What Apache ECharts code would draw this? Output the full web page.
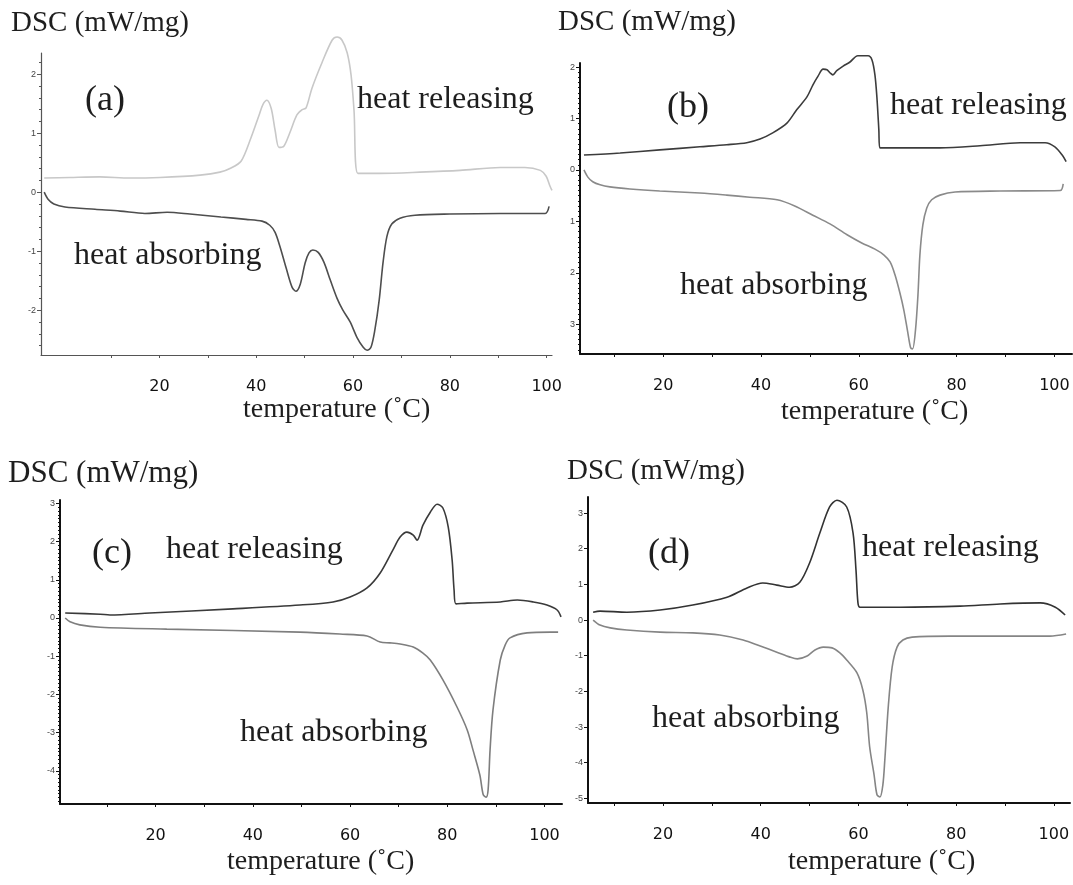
<!DOCTYPE html>
<html>
<head>
<meta charset="utf-8">
<script src="https://cdn.jsdelivr.net/npm/echarts@6/dist/echarts.min.js"></script>
<style>
  html, body { margin: 0; padding: 0; background: #fff; }
  #chart { width: 1073px; height: 885px; }
</style>
</head>
<body>
<div id="chart"></div>
<script>
// temperature axis ticks / labels (shared by the four panels)
var tempTicks = [10, 20, 30, 40, 50, 60, 70, 80, 90, 100];
var tempLabels = [20, 40, 60, 80, 100];

// DSC tick labels of each panel
var aDscLabels = [-2, -1, 0, 1, 2];
var bDscLabels = [-3, -2, -1, 0, 1, 2];
var cDscLabels = [-4, -3, -2, -1, 0, 1, 2, 3];
var dDscLabels = [-5, -4, -3, -2, -1, 0, 1, 2, 3];

// (a) heat releasing (light curve)
var aReleaseT = [-3.8, 1.5, 7.7, 13.9, 20.1, 28.4, 32.5, 34.8, 36.9, 38.9, 40.6, 41.4, 42.2, 43.1, 43.9, 44.7, 45.7, 46.9, 48.4, 49.5, 50.3, 51.5, 53.6, 55.7, 56.7, 57.7, 58.8, 59.6, 60.2, 61.0, 65.6, 73.8, 82.1, 90.4, 95.5, 98.7, 99.9, 100.7, 101.1];
var aReleaseDsc = [0.24, 0.25, 0.26, 0.24, 0.25, 0.29, 0.34, 0.41, 0.53, 0.92, 1.31, 1.49, 1.56, 1.42, 1.05, 0.76, 0.78, 1.0, 1.31, 1.40, 1.43, 1.76, 2.2, 2.58, 2.63, 2.58, 2.36, 1.98, 1.39, 0.32, 0.32, 0.34, 0.37, 0.42, 0.42, 0.37, 0.27, 0.1, 0.03];
// (a) heat absorbing
var aAbsorbT = [-3.8, -3.0, -1.8, 0.5, 6.7, 11.9, 17.0, 21.6, 26.3, 32.7, 37.9, 41.2, 42.8, 43.9, 44.9, 46.2, 47.4, 48.2, 49.1, 50.1, 50.9, 51.7, 52.8, 54.0, 55.3, 56.7, 57.9, 59.4, 60.8, 62.1, 62.9, 63.7, 64.5, 65.4, 66.2, 67.0, 68.0, 69.7, 72.8, 80.0, 90.4, 99.7, 100.5];
var aAbsorbDsc = [0, -0.12, -0.2, -0.25, -0.29, -0.32, -0.36, -0.34, -0.37, -0.42, -0.46, -0.49, -0.56, -0.68, -0.92, -1.29, -1.61, -1.68, -1.56, -1.2, -1.03, -0.98, -1.02, -1.19, -1.49, -1.8, -2.0, -2.2, -2.46, -2.63, -2.68, -2.63, -2.34, -1.83, -1.19, -0.75, -0.54, -0.44, -0.39, -0.37, -0.36, -0.36, -0.24];

// (b)
var bReleaseT = [3.8, 11.2, 19.3, 27.5, 33.0, 37.1, 39.8, 42.4, 45.3, 47.3, 49.4, 50.6, 51.7, 52.7, 53.5, 54.1, 54.7, 55.5, 56.8, 58.2, 59.8, 61.9, 62.7, 63.3, 63.7, 64.1, 64.3, 68.4, 76.6, 84.8, 93.0, 98.1, 100.1, 101.6, 102.4];
var bReleaseDsc = [0.29, 0.33, 0.39, 0.45, 0.49, 0.53, 0.6, 0.72, 0.91, 1.17, 1.42, 1.65, 1.83, 1.96, 1.95, 1.89, 1.85, 1.93, 2.02, 2.1, 2.22, 2.22, 2.14, 1.85, 1.42, 0.78, 0.43, 0.43, 0.43, 0.47, 0.53, 0.53, 0.45, 0.29, 0.16];
var bAbsorbT = [3.8, 4.6, 5.6, 7.1, 9.1, 13.2, 19.3, 27.5, 33.0, 37.7, 43.3, 46.9, 50.6, 54.1, 57.6, 60.6, 63.3, 65.1, 66.4, 67.4, 68.4, 69.2, 70.0, 70.6, 71.0, 71.6, 72.1, 72.5, 73.1, 73.9, 74.9, 76.6, 79.7, 88.9, 101.2, 101.8];
var bAbsorbDsc = [0, -0.14, -0.23, -0.29, -0.33, -0.37, -0.41, -0.45, -0.49, -0.53, -0.58, -0.7, -0.88, -1.05, -1.26, -1.42, -1.54, -1.65, -1.79, -2.04, -2.39, -2.72, -3.15, -3.46, -3.48, -3.11, -2.43, -1.65, -1.07, -0.74, -0.58, -0.49, -0.43, -0.41, -0.4, -0.27];

// (c)
var cReleaseT = [1.4, 8.6, 10.6, 18.8, 35.9, 49.7, 56.5, 60.0, 63.5, 66.2, 68.8, 70.3, 71.7, 73.0, 73.8, 75.0, 76.5, 77.9, 79.1, 80.2, 81.0, 81.4, 81.8, 84.1, 90.9, 94.4, 97.7, 100.5, 102.6, 103.4];
var cReleaseDsc = [0.13, 0.1, 0.08, 0.13, 0.24, 0.34, 0.42, 0.55, 0.79, 1.18, 1.78, 2.12, 2.25, 2.17, 2.04, 2.43, 2.77, 2.98, 2.88, 2.38, 1.52, 0.73, 0.37, 0.39, 0.42, 0.47, 0.42, 0.34, 0.21, 0.03];
var cAbsorbT = [1.4, 2.4, 4.4, 8.6, 22.3, 49.7, 57.9, 63.5, 66.2, 68.2, 70.3, 73.0, 75.0, 76.5, 79.1, 82.0, 84.1, 85.3, 86.7, 87.4, 88.0, 88.4, 88.8, 89.4, 90.9, 91.9, 92.9, 96.4, 101.2, 102.8];
var cAbsorbDsc = [0, -0.1, -0.18, -0.24, -0.29, -0.37, -0.42, -0.47, -0.63, -0.65, -0.68, -0.76, -0.92, -1.1, -1.62, -2.33, -2.93, -3.46, -4.11, -4.63, -4.69, -4.5, -3.46, -2.41, -1.1, -0.71, -0.52, -0.39, -0.37, -0.37];

// (d)
var dReleaseT = [5.7, 7.1, 12.6, 19.4, 26.1, 33.1, 37.2, 40.4, 43.3, 45.9, 48.0, 50.0, 52.1, 54.1, 55.6, 57.6, 58.9, 59.5, 59.9, 60.3, 68.5, 80.8, 89.0, 97.2, 100.3, 102.3];
var dReleaseDsc = [0.22, 0.25, 0.22, 0.28, 0.42, 0.64, 0.9, 1.04, 0.98, 0.92, 1.06, 1.6, 2.44, 3.17, 3.36, 3.17, 2.44, 1.4, 0.48, 0.36, 0.36, 0.39, 0.45, 0.48, 0.36, 0.14];
var dAbsorbT = [5.7, 7.1, 9.2, 12.6, 19.4, 26.1, 31.6, 36.4, 39.9, 43.3, 46.0, 47.5, 49.5, 51.1, 52.8, 54.6, 56.2, 57.6, 59.7, 60.9, 61.7, 62.3, 63.2, 63.8, 64.4, 65.0, 65.4, 66.1, 66.9, 67.9, 69.1, 71.0, 78.7, 99.2, 102.5];
var dAbsorbDsc = [0, -0.14, -0.22, -0.28, -0.34, -0.36, -0.42, -0.56, -0.73, -0.9, -1.04, -1.09, -1.01, -0.84, -0.76, -0.78, -0.92, -1.12, -1.48, -1.96, -2.6, -3.56, -4.34, -4.9, -4.96, -4.62, -3.92, -2.44, -1.32, -0.76, -0.56, -0.48, -0.45, -0.45, -0.39];

function pts(t, d) {
  return t.map(function (v, i) { return [v, d[i]]; });
}
function minorTicks(lo, hi, step) {
  var out = [];
  for (var v = Math.ceil(lo / step) * step; v <= hi; v += step) out.push(+v.toFixed(2));
  return out;
}

// layout of the four panels
var panels = [
  { box: { left: 41, top: 53, width: 511, height: 302 }, x: [-4.46, 101.1], y: [-2.76, 2.36],
    labels: aDscLabels, minor: 0.2, axisColor: '#555', axisWidth: 1.2, abs: false,
    lines: [[aReleaseT, aReleaseDsc, '#c8c8c8'], [aAbsorbT, aAbsorbDsc, '#4e4e4e']] },
  { box: { left: 580, top: 63, width: 492, height: 291 }, x: [2.99, 103.6], y: [-3.58, 2.08],
    labels: bDscLabels, minor: 0.1, axisColor: '#111', axisWidth: 2, abs: true,
    lines: [[bReleaseT, bReleaseDsc, '#3c3c3c'], [bAbsorbT, bAbsorbDsc, '#8a8a8a']] },
  { box: { left: 60, top: 500, width: 502, height: 304 }, x: [0.33, 103.6], y: [-4.87, 3.09],
    labels: cDscLabels, minor: 0.1, axisColor: '#111', axisWidth: 2, abs: false,
    lines: [[cReleaseT, cReleaseDsc, '#3a3a3a'], [cAbsorbT, cAbsorbDsc, '#7e7e7e']] },
  { box: { left: 588, top: 497, width: 482, height: 306 }, x: [4.65, 103.3], y: [-5.13, 3.45],
    labels: dDscLabels, minor: 0, axisColor: '#111', axisWidth: 2, abs: false,
    lines: [[dReleaseT, dReleaseDsc, '#333'], [dAbsorbT, dAbsorbDsc, '#858585']] }
];

var texts = [
  ['DSC (mW/mg)', 11, 23, 29], ['(a)', 85, 101, 36], ['heat releasing', 357, 100, 32],
  ['heat absorbing', 74, 256, 32], ['temperature (˚C)', 243, 410, 28],
  ['DSC (mW/mg)', 558, 22, 29], ['(b)', 667, 108, 36], ['heat releasing', 890, 106, 32],
  ['heat absorbing', 680, 286, 32], ['temperature (˚C)', 781, 412, 28],
  ['DSC (mW/mg)', 8, 474, 31], ['(c)', 92, 554, 36], ['heat releasing', 166, 550, 32],
  ['heat absorbing', 240, 733, 32], ['temperature (˚C)', 227, 862, 28],
  ['DSC (mW/mg)', 567, 471, 29], ['(d)', 648, 554, 36], ['heat releasing', 862, 548, 32],
  ['heat absorbing', 652, 719, 32], ['temperature (˚C)', 788, 862, 28]
];

var option = {
  animation: false,
  backgroundColor: '#fff',
  grid: [], xAxis: [], yAxis: [], series: [],
  graphic: texts.map(function (t) {
    return {
      type: 'text', x: t[1], y: t[2], silent: true,
      style: { text: t[0], font: t[3] + 'px "Liberation Serif"', fill: '#1e1e1e', verticalAlign: 'middle' }
    };
  })
};

panels.forEach(function (p, k) {
  var g = p.box;
  g.outerBoundsMode = 'none';
  option.grid.push(g);
  option.xAxis.push({
    type: 'value', gridIndex: k, min: p.x[0], max: p.x[1],
    axisLine: { onZero: false, lineStyle: { color: p.axisColor, width: p.axisWidth } },
    axisTick: { customValues: tempTicks, length: 3, lineStyle: { color: p.axisColor } },
    axisLabel: { customValues: tempLabels, margin: 24, fontFamily: 'DejaVu Sans', fontSize: 16, color: '#111' },
    splitLine: { show: false }
  });
  // main y axis: line, integer ticks and labels
  option.yAxis.push({
    type: 'value', gridIndex: k, position: 'left', min: p.y[0], max: p.y[1],
    axisLine: { show: true, onZero: false, lineStyle: { color: p.axisColor, width: p.axisWidth } },
    axisTick: { customValues: p.labels, length: 4, lineStyle: { color: p.axisColor } },
    axisLabel: {
      customValues: p.labels, margin: 5, fontFamily: 'Liberation Sans', fontSize: 9, color: '#444',
      formatter: function (v) { return String(p.abs ? Math.abs(v) : v); }
    },
    splitLine: { show: false }
  });
  // second y axis only for the small ticks
  option.yAxis.push({
    type: 'value', gridIndex: k, position: 'left', min: p.y[0], max: p.y[1],
    axisLine: { show: false, onZero: false },
    axisTick: { show: p.minor > 0, customValues: p.minor > 0 ? minorTicks(p.y[0], p.y[1], p.minor) : [], length: 2, lineStyle: { color: p.axisColor } },
    axisLabel: { show: false },
    splitLine: { show: false }
  });
  p.lines.forEach(function (l) {
    option.series.push({
      type: 'line', xAxisIndex: k, yAxisIndex: 2 * k,
      data: pts(l[0], l[1]), showSymbol: false, smooth: 0.3, clip: false,
      lineStyle: { color: l[2], width: 1.6 }
    });
  });
});

var myChart = echarts.init(document.getElementById('chart'));
myChart.setOption(option);
</script>
</body>
</html>
